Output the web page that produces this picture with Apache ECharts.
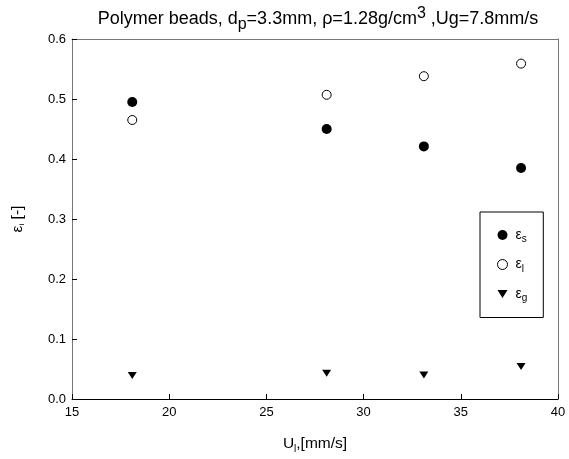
<!DOCTYPE html>
<html lang="en">
<head>
    <meta charset="utf-8"/>
    <title>Polymer beads holdup</title>
    <script src="https://cdn.jsdelivr.net/npm/echarts@6/dist/echarts.min.js"></script>
</head>
<body style="margin: 0; background: #fff">
<div id="chart" style="width: 569px; height: 459px"></div>
<script>
    // liquid velocity U_l [mm/s]
    const ulValues = [18.1, 28.1, 33.1, 38.1];
    // phase holdups
    const epsSolid = [0.495, 0.450, 0.421, 0.385];
    const epsLiquid = [0.465, 0.507, 0.538, 0.559];
    const epsGas = [0.039, 0.043, 0.040, 0.054];

    const FONT = 'Liberation Sans, Arial, sans-serif';
    const pairs = (ys) => ulValues.map((x, i) => [x, ys[i]]);
    const triangle = 'path://M0,0L10,0L5,8Z';
    const txt = (size, extra) => Object.assign({fontSize: size, fontFamily: FONT, color: '#000', fontWeight: 'normal'}, extra || {});

    let chart = echarts.init(document.getElementById('chart'), null, {renderer: 'canvas'});

    chart.setOption({
        animation: false,
        textStyle: {fontFamily: FONT, color: '#000'},
        title: {
            text: '{a|Polymer beads, d}{s|p}{a|=3.3mm, \u03c1=1.28g/cm}{u|3}{a| ,Ug=7.8mm/s}',
            left: 313,
            textAlign: 'center',
            top: 1,
            textStyle: {
                fontWeight: 'normal',
                rich: {
                    a: txt(18),
                    s: txt(16, {padding: [11, 0, 0, 0]}),
                    u: txt(16, {padding: [0, 0, 11, 0]})
                }
            }
        },
        grid: {left: 72, right: 11, top: 39, bottom: 59},
        legend: {
            orient: 'vertical',
            left: 480,
            top: 212,
            backgroundColor: '#fff',
            borderColor: '#000',
            borderWidth: 1,
            padding: [16, 16, 14, 17],
            itemGap: 13,
            itemWidth: 10,
            itemHeight: 10,
            data: [
                {name: 's', icon: 'circle', itemStyle: {color: '#000', borderWidth: 0}},
                {name: 'l', icon: 'circle', itemStyle: {color: '#fff', borderColor: '#000', borderWidth: 1}},
                {name: 'g', icon: triangle, itemStyle: {color: '#000', borderWidth: 0}}
            ],
            formatter: (name) => '{e|\u03b5}{b|' + name + '}',
            textStyle: {
                lineHeight: 14,
                rich: {
                    e: txt(14, {padding: [0, 0, 0, 3]}),
                    b: txt(10, {padding: [9, 0, 0, 0]})
                }
            }
        },
        xAxis: [{
            type: 'value',
            min: 15, max: 40, interval: 5,
            name: '{a|U}{s|l}{a|,[mm/s]}',
            nameLocation: 'middle',
            nameGap: 35,
            nameTextStyle: {
                rich: {
                    a: txt(15.5),
                    s: txt(10, {padding: [10, 0, 0, 0]})
                }
            },
            axisLine: {lineStyle: {color: '#000', width: 1}},
            axisTick: {inside: true, length: 5, lineStyle: {color: '#000'}},
            axisLabel: {fontSize: 13, color: '#000', margin: 7, fontFamily: FONT},
            splitLine: {show: false}
        }, {
            type: 'value',
            position: 'top',
            min: 15, max: 40,
            axisLine: {show: true, onZero: false, lineStyle: {color: '#777'}},
            axisTick: {show: false},
            axisLabel: {show: false},
            splitLine: {show: false}
        }],
        yAxis: [{
            type: 'value',
            min: 0, max: 0.6, interval: 0.1,
            name: '{a|\u03b5}{s|i}{a| [-]}',
            nameLocation: 'middle',
            nameGap: 46,
            nameTextStyle: {
                rich: {
                    a: txt(15.5),
                    s: txt(8, {padding: [9, 0, 0, 0]})
                }
            },
            axisLine: {show: true, onZero: false, lineStyle: {color: '#777', width: 1}},
            axisTick: {show: true, inside: true, length: 5, lineStyle: {color: '#000'}},
            axisLabel: {
                fontSize: 13, color: '#000', margin: 6, fontFamily: FONT,
                formatter: (v) => v.toFixed(1)
            },
            splitLine: {show: false}
        }, {
            type: 'value',
            position: 'right',
            min: 0, max: 0.6,
            axisLine: {show: true, onZero: false, lineStyle: {color: '#777'}},
            axisTick: {show: false},
            axisLabel: {show: false},
            splitLine: {show: false}
        }],
        series: [
            {
                name: 's', type: 'scatter', data: pairs(epsSolid),
                symbol: 'circle', symbolSize: 10,
                itemStyle: {color: '#000', opacity: 1}
            },
            {
                name: 'l', type: 'scatter', data: pairs(epsLiquid),
                symbol: 'circle', symbolSize: 9,
                itemStyle: {color: '#fff', borderColor: '#000', borderWidth: 1, opacity: 1}
            },
            {
                name: 'g', type: 'scatter', data: pairs(epsGas),
                symbol: triangle, symbolSize: [9, 7],
                itemStyle: {color: '#000', opacity: 1}
            }
        ]
    });
</script>
</body>
</html>
